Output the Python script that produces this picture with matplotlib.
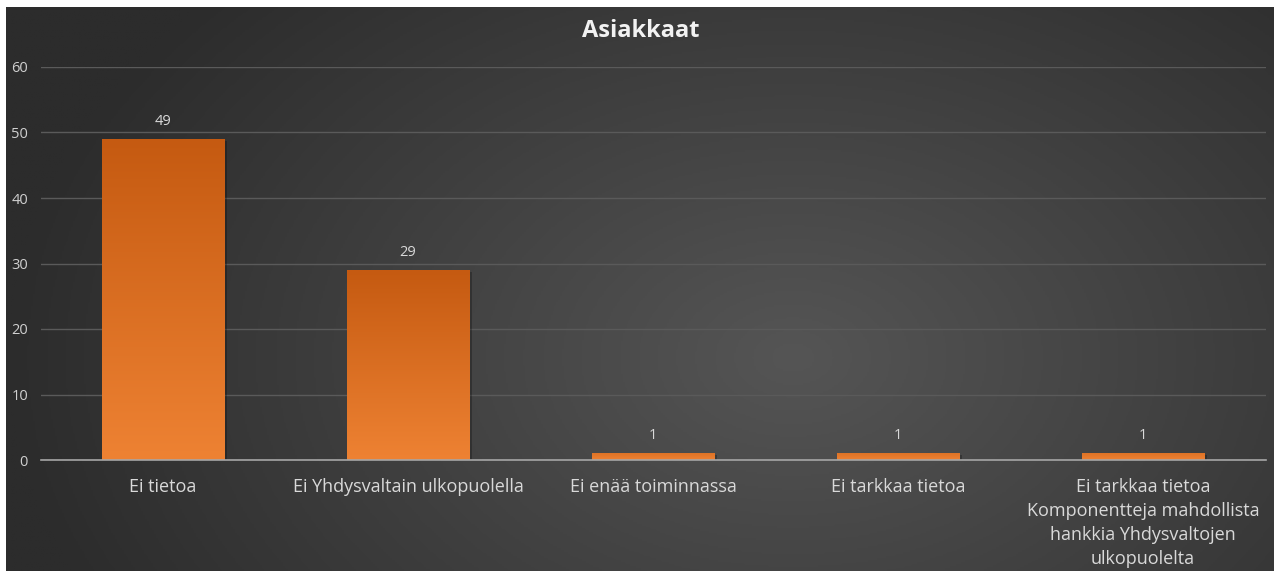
import numpy as np
import matplotlib
matplotlib.use("Agg")
import matplotlib.pyplot as plt
from matplotlib.colors import LinearSegmentedColormap

categories = [
    "Ei tietoa",
    "Ei Yhdysvaltain ulkopuolella",
    "Ei enää toiminnassa",
    "Ei tarkkaa tietoa",
    "Ei tarkkaa tietoa\nKomponentteja mahdollista\nhankkia Yhdysvaltojen\nulkopuolelta",
]
values = [49, 29, 1, 1, 1]
yticks = [0, 10, 20, 30, 40, 50, 60]
title = "Asiakkaat"

plt.rcParams['font.family'] = ['Open Sans', 'DejaVu Sans']

W, H = 1274, 571
fig = plt.figure(figsize=(W / 100, H / 100), dpi=100)
fig.patch.set_facecolor("white")

# background radial gradient
bg = fig.add_axes([6 / W, 0, 1 - 6 / W, 1 - 7 / H])
bg.set_axis_off()
ny, nx = 300, 700
yy, xx = np.mgrid[0:ny, 0:nx]
cx, cy = nx * 0.62, ny * 0.62
r = np.sqrt(((xx - cx) / (nx * 0.62)) ** 2 + ((yy - cy) / (ny * 0.95)) ** 2)
r = np.clip(r, 0, 1)
bgcmap = LinearSegmentedColormap.from_list("bg", ["#555555", "#2c2c2c"])
bg.imshow(r, cmap=bgcmap, aspect="auto", extent=[0, 1, 0, 1], vmin=0, vmax=1)
bg.set_xlim(0, 1)
bg.set_ylim(0, 1)

ax = fig.add_axes([40.5 / W, 111 / H, 1225 / W, 393 / H])
ax.set_facecolor("none")
x = np.arange(len(categories))
bars = ax.bar(x, values, width=0.5, color="#e0701f", zorder=3)

barcmap = LinearSegmentedColormap.from_list("bar", ["#ee8233", "#c55a11"])
grad = np.linspace(0, 1, 256).reshape(-1, 1)
for b in bars:
    bx, by = b.get_x(), b.get_y()
    bw, bh = b.get_width(), b.get_height()
    # shadow
    ax.bar(bx + bw / 2 + 0.01, bh, width=bw, bottom=-0.25, color="black",
           alpha=0.25, zorder=2.5)
    im = ax.imshow(grad, cmap=barcmap, aspect="auto", origin="lower",
                   extent=[bx, bx + bw, by, by + bh], zorder=3.1,
                   vmin=0, vmax=1 if bh > 5 else 2.5)
    im.set_clip_path(b)
    ax.text(bx + bw / 2, bh + 1.6, str(int(bh)), ha="center", va="bottom",
            color="#d9d9d9", fontsize=10.5)
ax.set_xlim(-0.5, len(categories) - 0.5)
ax.set_ylim(0, 60)

ax.set_yticks(yticks)
ax.set_yticklabels([str(v) for v in yticks], color="#d0d0d0", fontsize=10.5)
ax.set_xticks(x)
ax.set_xticklabels(categories, color="#d9d9d9", fontsize=13, linespacing=1.42, va="top")
ax.tick_params(axis="both", length=0)
ax.tick_params(axis="x", pad=13)
ax.tick_params(axis="y", pad=9)
ax.grid(axis="y", color="#5a5a5a", linewidth=1, zorder=0)
for s in ["top", "right", "left"]:
    ax.spines[s].set_visible(False)
ax.spines["bottom"].set_color("#a6a6a6")
ax.spines["bottom"].set_linewidth(1.2)
ax.spines["bottom"].set_zorder(4)

fig.text(641 / W, 1 - 31 / H, title, ha="center", va="center", color="#f2f2f2",
         fontsize=17, fontweight="bold")

fig.savefig("out.png", dpi=100, facecolor=fig.get_facecolor())
